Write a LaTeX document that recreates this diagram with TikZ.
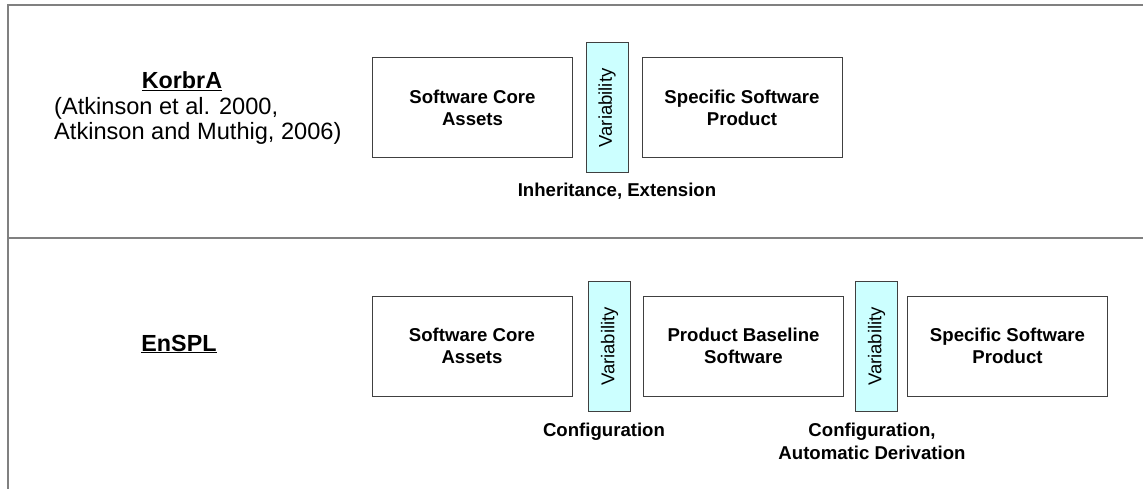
\documentclass[tikz,border=0pt]{standalone}
\usepackage{fontspec}
\setmainfont{Liberation Sans}
\definecolor{framegray}{HTML}{808080}
\definecolor{boxgray}{HTML}{404040}
\definecolor{varfill}{HTML}{CCFFFF}
\begin{document}
\begin{tikzpicture}[x=1pt,y=-1pt,
  frameline/.style={draw=framegray,line width=2pt},
  assetbox/.style={draw=boxgray,line width=1pt,fill=white,minimum width=200pt,minimum height=100pt,inner sep=0pt,align=center,font=\fontsize{18.6}{22.7}\selectfont\bfseries},
  varbox/.style={draw=boxgray,line width=1pt,fill=varfill,rotate=90,minimum width=130pt,minimum height=42pt,inner sep=0pt,font=\fontsize{18.5}{22}\selectfont},
  steplabel/.style={inner sep=0pt,align=center,font=\fontsize{18.6}{22.7}\selectfont\bfseries},
  titlelabel/.style={inner sep=0pt,font=\fontsize{23.3}{26}\selectfont\bfseries},
  citelabel/.style={inner sep=0pt,align=left,font=\fontsize{23.6}{25.5}\selectfont}
]
\useasboundingbox (0,0) rectangle (1143,489);
% frame
\coordinate (ftl) at (8,5);
\coordinate (ftr) at (1143,5);
\coordinate (fml) at (8,238);
\coordinate (fmr) at (1143,238);
\coordinate (fbl) at (8,489);
\draw[frameline] (ftr) -- (ftl) -- (fbl);
\draw[frameline] (fml) -- (fmr);

% KorbrA row
\node[titlelabel] (k) at (182,81) {\underline{KorbrA}};
\node[citelabel,anchor=west] (kc) at (54,121) {(Atkinson et al. 2000,\\Atkinson and Muthig, 2006)};
\node[assetbox] (a1) at (472.5,108) {Software Core\\Assets};
\node[varbox] (v1) at (607,108) {Variability};
\node[assetbox] (b1) at (742,108) {Specific Software\\Product};
\node[steplabel] (l1) at (617,191) {Inheritance, Extension};

% EnSPL row
\node[titlelabel] (e) at (179,344) {\underline{EnSPL}};
\node[assetbox] (a2) at (472,346) {Software Core\\Assets};
\node[varbox] (v2) at (609.5,346.5) {Variability};
\node[assetbox] (b2) at (743.5,346) {Product Baseline\\Software};
\node[varbox] (v3) at (876.5,346.5) {Variability};
\node[assetbox] (c2) at (1007.5,346) {Specific Software\\Product};
\node[steplabel] (l2) at (604,432) {Configuration};
\node[steplabel] (l3) at (872,441.5) {Configuration,\\Automatic Derivation};
\end{tikzpicture}
\end{document}
